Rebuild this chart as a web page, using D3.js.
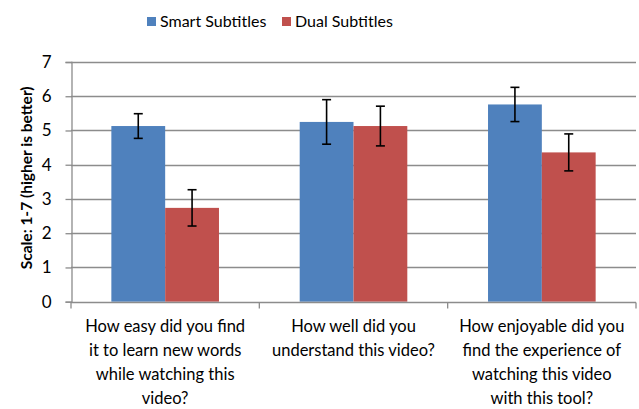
<!DOCTYPE html>
<html><head><meta charset="utf-8">
<script src="https://cdn.jsdelivr.net/npm/d3@7/dist/d3.min.js"></script>
<style>body{margin:0;background:#fff;} svg{display:block;}</style>
</head><body>
<script>
const categories = [
  ["How easy did you find", "it to learn new words", "while watching this", "video?"],
  ["How well did you", "understand this video?"],
  ["How enjoyable did you", "find the experience of", "watching this video", "with this tool?"]
];
const seriesNames = ["Smart Subtitles", "Dual Subtitles"];
const smartValues = [5.13, 5.25, 5.76];
const smartErrors = [0.36, 0.65, 0.50];
const dualValues = [2.74, 5.13, 4.36];
const dualErrors = [0.53, 0.58, 0.54];
const yTicks = [0, 1, 2, 3, 4, 5, 6, 7];
const colors = ["#4F81BD", "#C0504D"];
const yTitle = "Scale: 1-7 (higher is better)";

const W = 639, H = 409;
const margin = {left: 71, right: 3, top: 62, bottom: 108};
const font = "Lato, 'Open Sans', sans-serif";

const svg = d3.select("body").append("svg").attr("width", W).attr("height", H);

const x0 = d3.scaleBand().domain(d3.range(categories.length))
  .range([margin.left, W - margin.right]).paddingInner(0).paddingOuter(0);
const bw = x0.bandwidth();
const barW = bw / 3.5; // gap width 150%
const x1 = d3.scaleBand().domain([0, 1]).range([0, barW * 2]);
const y = d3.scaleLinear().domain([0, 7]).range([H - margin.bottom + 0.7, margin.top]);

// gridlines
svg.append("g").selectAll("line").data(yTicks.filter(t => t > 0)).join("line")
  .attr("x1", margin.left).attr("x2", W - margin.right)
  .attr("y1", d => Math.round(y(d)) + 0.5).attr("y2", d => Math.round(y(d)) + 0.5)
  .attr("stroke", "#8c8c8c").attr("stroke-width", 1.3);

// y axis
const yAxis = svg.append("g").attr("transform", `translate(${margin.left + 0.5},0)`)
  .call(d3.axisLeft(y).tickValues(yTicks).tickSize(6).tickPadding(14).tickFormat(d3.format("d")));
yAxis.select(".domain").attr("stroke", "#8c8c8c").attr("stroke-width", 1.3);
yAxis.selectAll(".tick line").attr("stroke", "#8c8c8c").attr("stroke-width", 1.3);
yAxis.selectAll(".tick text").attr("font-family", font).attr("font-size", "17px").attr("fill", "#000");

// bars
const data = categories.map((c, i) => ({
  i,
  vals: [
    {s: 0, v: smartValues[i], e: smartErrors[i]},
    {s: 1, v: dualValues[i], e: dualErrors[i]}
  ]
}));

const groups = svg.append("g").selectAll("g").data(data).join("g")
  .attr("transform", d => `translate(${x0(d.i) + (bw - barW * 2) / 2},0)`);

groups.selectAll("rect").data(d => d.vals).join("rect")
  .attr("x", d => x1(d.s)).attr("width", x1.bandwidth())
  .attr("y", d => y(d.v)).attr("height", d => y(0) - y(d.v))
  .attr("fill", d => colors[d.s]);

// x axis
const xAxisY = Math.round(y(0)) + 0.5;
svg.append("line").attr("x1", margin.left).attr("x2", W - margin.right)
  .attr("y1", xAxisY).attr("y2", xAxisY).attr("stroke", "#8c8c8c").attr("stroke-width", 1.3);
svg.append("g").selectAll("line").data(d3.range(categories.length + 1)).join("line")
  .attr("x1", d => margin.left + d * bw).attr("x2", d => margin.left + d * bw)
  .attr("y1", xAxisY).attr("y2", xAxisY + 6)
  .attr("stroke", "#8c8c8c").attr("stroke-width", 1.3);

// error bars
const eb = groups.selectAll("g.err").data(d => d.vals).join("g").attr("class", "err");
eb.append("line")
  .attr("x1", d => x1(d.s) + x1.bandwidth() / 2).attr("x2", d => x1(d.s) + x1.bandwidth() / 2)
  .attr("y1", d => y(d.v + d.e)).attr("y2", d => y(d.v - d.e))
  .attr("stroke", "#000").attr("stroke-width", 1.6);
[1, -1].forEach(sg => {
  eb.append("line")
    .attr("x1", d => x1(d.s) + x1.bandwidth() / 2 - 4.5).attr("x2", d => x1(d.s) + x1.bandwidth() / 2 + 4.5)
    .attr("y1", d => y(d.v + sg * d.e)).attr("y2", d => y(d.v + sg * d.e))
    .attr("stroke", "#000").attr("stroke-width", 1.6);
});

// x labels
const xl = svg.append("g").selectAll("text").data(categories).join("text")
  .attr("font-family", font).attr("font-size", "16.5px").attr("fill", "#000")
  .attr("text-anchor", "middle");
xl.selectAll("tspan").data((d, i) => d.map(l => ({l, i}))).join("tspan")
  .attr("x", d => x0(d.i) + bw / 2)
  .attr("y", (d, j) => 332 + j * 24)
  .text(d => d.l);

// y title
svg.append("text")
  .attr("transform", `translate(32,${(y(0) + y(7)) / 2 - 4}) rotate(-90)`)
  .attr("text-anchor", "middle")
  .attr("font-family", font).attr("font-size", "15.5px").attr("font-weight", "bold")
  .text(yTitle);

// legend
const legend = svg.append("g");
const legendX = [147, 282];
seriesNames.forEach((n, i) => {
  legend.append("rect").attr("x", legendX[i]).attr("y", 17).attr("width", 9).attr("height", 9).attr("fill", colors[i]);
  legend.append("text").attr("x", legendX[i] + 13).attr("y", 27)
    .attr("font-family", font).attr("font-size", "16px").text(n);
});
</script>
</body></html>
